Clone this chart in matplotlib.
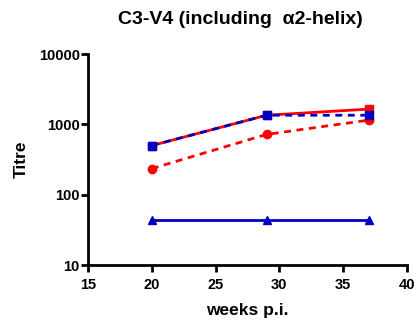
import matplotlib
matplotlib.use("Agg")
import matplotlib.pyplot as plt

plt.rcParams['font.family'] = ['Liberation Sans', 'DejaVu Sans']
plt.rcParams['font.weight'] = 'bold'

weeks = [20, 29, 37]
red_solid = [500, 1350, 1650]
red_dashed = [235, 720, 1150]
blue_dashed = [500, 1350, 1350]
blue_solid = [44, 44, 44]

RED = '#ff0000'
BLUE = '#0000c0'

fig = plt.figure(figsize=(4.19, 3.22), dpi=100)
ax = fig.add_axes([0.21, 0.177, 0.761, 0.655])

ax.plot(weeks, red_solid, '-', color=RED, lw=2, marker='s', ms=6, zorder=3)
ax.plot(weeks, red_dashed, '--', color=RED, lw=2, marker='o', ms=6, dashes=(2.5, 2), zorder=3)
ax.plot(weeks, blue_dashed, '--', color=BLUE, lw=2, marker='s', ms=6, dashes=(2.5, 2), zorder=4)
ax.plot(weeks, blue_solid, '-', color=BLUE, lw=2, marker='^', ms=6, zorder=3)

ax.set_yscale('log')
ax.set_ylim(10, 10000)
ax.set_xlim(15, 40)
ax.set_xticks([15, 20, 25, 30, 35, 40])
ax.set_yticks([10, 100, 1000, 10000])
ax.set_yticklabels(['10', '100', '1000', '10000'])
ax.yaxis.set_minor_locator(matplotlib.ticker.NullLocator())

for s in ['top', 'right']:
    ax.spines[s].set_visible(False)
for s in ['left', 'bottom']:
    ax.spines[s].set_linewidth(2)
ax.tick_params(width=2, length=5, labelsize=10.5)
ax.tick_params(axis='x', pad=4)
ax.tick_params(axis='y', pad=1)
for lab in ax.get_xticklabels() + ax.get_yticklabels():
    lab.set_fontweight('bold')

ax.set_xlabel('weeks p.i.', fontsize=12.5, fontweight='bold', labelpad=8)
ax.set_ylabel('Titre', fontsize=12.5, fontweight='bold', labelpad=7)
fig.suptitle('C3-V4 (including  \u03b12-helix)', fontsize=14, fontweight='bold', x=0.573, y=0.965)

fig.savefig('out.png', dpi=100)
